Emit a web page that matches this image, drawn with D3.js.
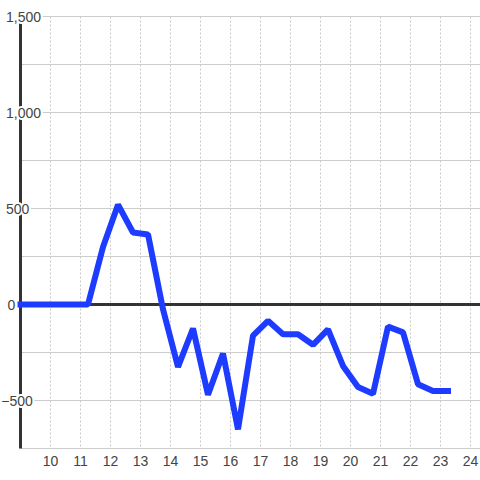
<!DOCTYPE html>
<html>
<head>
<meta charset="utf-8">
<script src="https://cdn.jsdelivr.net/npm/d3@7"></script>
<style>
  html, body { margin: 0; padding: 0; background: #fff; }
  svg { display: block; }
  text { font-family: "Liberation Sans", Arial, sans-serif; font-size: 14px; fill: #444; }
</style>
</head>
<body>
<svg id="chart" width="480" height="480"></svg>
<script>
const times = [9, 9.25, 9.75, 10.25, 10.75, 11.25, 11.75, 12.25, 12.75, 13.25, 13.75, 14.25, 14.75, 15.25, 15.75, 16.25, 16.75, 17.25, 17.75, 18.25, 18.75, 19.25, 19.75, 20.25, 20.75, 21.25, 21.75, 22.25, 22.75, 23.25];
const values = [0, 0, 0, 0, 0, 0, 300, 520, 375, 365, -25, -325, -125, -470, -255, -650, -162, -85, -155, -155, -210, -130, -320, -430, -465, -115, -145, -415, -450, -450];
const xTicks = [10, 11, 12, 13, 14, 15, 16, 17, 18, 19, 20, 21, 22, 23, 24];
const yTicks = [-500, 0, 500, 1000, 1500];
const yGrid = [-500, -250, 250, 500, 750, 1000, 1250, 1500];

const svg = d3.select("#chart");
const x = d3.scaleLinear().domain([9, 24 + 1/3]).range([20.5, 480.5]);
const y = d3.scaleLinear().domain([-750, 1500]).range([448.5, 16.5]);
const fmt = d3.format(",");

// horizontal grid
svg.append("g").selectAll("line").data(yGrid).join("line")
  .attr("x1", x(9)).attr("x2", 480)
  .attr("y1", d => y(d)).attr("y2", d => y(d))
  .attr("stroke", "#cccccc").attr("stroke-width", 1);

// vertical dotted grid
svg.append("g").selectAll("line").data(xTicks).join("line")
  .attr("x1", d => x(d)).attr("x2", d => x(d))
  .attr("y1", y(1500)).attr("y2", y(-750))
  .attr("stroke", "#c8c8c8").attr("stroke-width", 1)
  .attr("stroke-dasharray", "2,2");

// bottom axis line
svg.append("line")
  .attr("x1", x(9)).attr("x2", 480)
  .attr("y1", y(-750)).attr("y2", y(-750))
  .attr("stroke", "#cccccc").attr("stroke-width", 1);

// zero line
svg.append("line")
  .attr("x1", x(9)).attr("x2", 480)
  .attr("y1", y(0)).attr("y2", y(0))
  .attr("stroke", "#333").attr("stroke-width", 3);

// y axis line
svg.append("line")
  .attr("x1", x(9)).attr("x2", x(9))
  .attr("y1", y(1500)).attr("y2", y(-750))
  .attr("stroke", "#333").attr("stroke-width", 3);

// data line
const pts = times.map((t, i) => [t, values[i]]);
svg.append("path")
  .datum(pts)
  .attr("fill", "none")
  .attr("stroke", "#1e3cff")
  .attr("stroke-width", 6)
  .attr("stroke-linecap", "square")
  .attr("stroke-linejoin", "bevel")
  .attr("d", d3.line().x(d => x(d[0])).y(d => y(d[1])));

// y labels with halo
const yl = svg.append("g").selectAll("text").data(yTicks).join("text")
  .attr("y", d => y(d) + 5)
  .attr("text-anchor", "start")
  .attr("stroke", "#fff").attr("stroke-width", 4)
  .attr("stroke-linejoin", "round")
  .attr("paint-order", "stroke")
  .text(d => fmt(d));
// measure minus width for hanging negative sign
const tmp = svg.append("text").text("-");
const minusW = tmp.node().getComputedTextLength();
tmp.remove();
yl.attr("x", d => d < 0 ? 6 - minusW : (d === 0 ? 7.5 : 6));

// x labels
svg.append("g").selectAll("text").data(xTicks).join("text")
  .attr("x", d => x(d))
  .attr("y", 466)
  .attr("text-anchor", "middle")
  .attr("stroke", "#fff").attr("stroke-width", 4)
  .attr("stroke-linejoin", "round")
  .attr("paint-order", "stroke")
  .text(d => d);
</script>
</body>
</html>
